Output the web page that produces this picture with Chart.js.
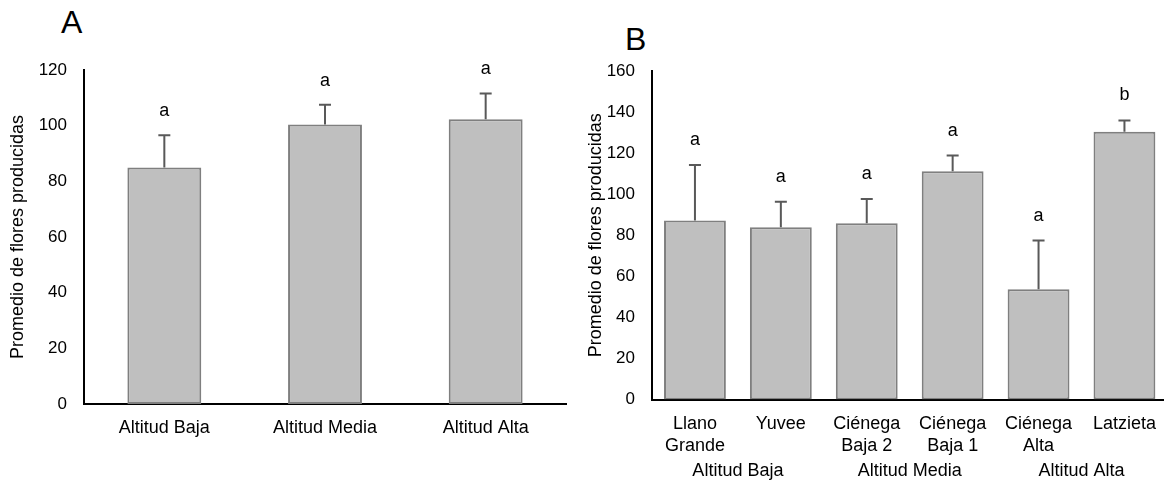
<!DOCTYPE html>
<html>
<head>
<meta charset="utf-8">
<script src="https://cdn.jsdelivr.net/npm/chart.js@4.4.1/dist/chart.umd.min.js"></script>
<style>
  html, body { margin: 0; padding: 0; background: #fff; overflow: hidden; }
  body { width: 1164px; height: 485px; position: relative; font-family: "Liberation Sans", Arial, sans-serif; }
  .panel { position: absolute; top: 0; }
  .tag { position: absolute; font-size: 32px; line-height: 32px; color: #000; }
</style>
</head>
<body>
<div class="tag" style="left:61px; top:6px;">A</div>
<div class="tag" style="left:625px; top:23px;">B</div>
<div class="panel" style="left:0px;"><canvas id="chartA" width="580" height="485"></canvas></div>
<div class="panel" style="left:578px;"><canvas id="chartB" width="600" height="485"></canvas></div>
<script>
// panel A
const altLabels = ['Altitud Baja', 'Altitud Media', 'Altitud Alta'];
const altMeans = [85, 100.4, 102.3];
const altErrors = [11.6, 7.1, 9.3];
const altLetters = ['a', 'a', 'a'];

// panel B
const siteLabels = [['Llano', 'Grande'], 'Yuvee', ['Ciénega', 'Baja 2'], ['Ciénega', 'Baja 1'], ['Ciénega', 'Alta'], 'Latzieta'];
const siteMeans = [87.2, 83.9, 85.9, 111.2, 53.7, 130.4];
const siteErrors = [27, 12.4, 11.7, 7.6, 23.7, 5.5];
const siteLetters = ['a', 'a', 'a', 'a', 'a', 'b'];
const siteGroups = [
  {label: 'Altitud Baja', from: 0, to: 1},
  {label: 'Altitud Media', from: 2, to: 3},
  {label: 'Altitud Alta', from: 4, to: 5},
];

const yTitle = 'Promedio de flores producidas';
const FONT = '"Liberation Sans", Arial, sans-serif';

// error bars + significance letters, drawn off the y scale
const errorBars = {
  id: 'errorBars',
  afterDatasetsDraw(chart, args, opts) {
    const ctx = chart.ctx;
    const y = chart.scales.y;
    const means = chart.data.datasets[0].data;
    chart.getDatasetMeta(0).data.forEach((bar, i) => {
      const base = y.getPixelForValue(means[i]);
      const top = y.getPixelForValue(means[i] + opts.errors[i]);
      ctx.save();
      ctx.strokeStyle = '#595959';
      ctx.lineWidth = 2;
      ctx.beginPath();
      ctx.moveTo(bar.x, base);
      ctx.lineTo(bar.x, top);
      ctx.moveTo(bar.x - 6, top);
      ctx.lineTo(bar.x + 6, top);
      ctx.stroke();
      ctx.fillStyle = '#000';
      ctx.font = '18px ' + FONT;
      ctx.textAlign = 'center';
      ctx.textBaseline = 'middle';
      ctx.fillText(opts.letters[i], bar.x, top - opts.gap);
      ctx.restore();
    });
  }
};

// second row of category labels (altitude groups)
const groupLabels = {
  id: 'groupLabels',
  afterDraw(chart, args, opts) {
    if (!opts.groups) return;
    const ctx = chart.ctx;
    const x = chart.scales.x;
    ctx.save();
    ctx.fillStyle = '#000';
    ctx.font = '18px ' + FONT;
    ctx.textAlign = 'center';
    ctx.textBaseline = 'middle';
    opts.groups.forEach(g => {
      const cx = (x.getPixelForValue(g.from) + x.getPixelForValue(g.to)) / 2;
      ctx.fillText(g.label, cx, chart.chartArea.bottom + opts.offset);
    });
    ctx.restore();
  }
};

function makeChart(id, labels, means, errors, letters, cfg) {
  return new Chart(document.getElementById(id), {
    type: 'bar',
    data: {
      labels: labels,
      datasets: [{
        data: means,
        backgroundColor: '#bfbfbf',
        borderColor: '#7f7f7f',
        borderWidth: 2,
        borderSkipped: false,
        barPercentage: cfg.barPct,
        categoryPercentage: 1,
      }],
    },
    options: {
      responsive: false,
      animation: false,
      layout: {padding: {top: cfg.top, right: cfg.right, left: 0, bottom: 0}},
      plugins: {
        legend: {display: false},
        tooltip: {enabled: false},
        errorBars: {errors: errors, letters: letters, gap: cfg.gap},
        groupLabels: {groups: cfg.groups, offset: 72},
      },
      scales: {
        x: {
          grid: {display: false},
          border: {display: true, color: '#000', width: 2},
          ticks: {color: '#000', padding: cfg.xPad, font: {family: FONT, size: 18, lineHeight: 1.26}, maxRotation: 0, autoSkip: false},
          afterFit: (s) => { s.height = cfg.xHeight; },
        },
        y: {
          min: 0,
          max: cfg.yMax,
          grid: {display: false, drawTicks: false},
          border: {display: true, color: '#000', width: 2},
          ticks: {stepSize: 20, color: '#000', padding: 17, font: {family: FONT, size: 17}},
          title: {display: true, text: yTitle, color: '#000', font: {family: FONT, size: 18}, padding: {top: cfg.titlePad, bottom: 0}},
          afterFit: (s) => { s.width = cfg.yWidth; },
        },
      },
    },
    plugins: [errorBars, groupLabels],
  });
}

makeChart('chartA', altLabels, altMeans, altErrors, altLetters, {
  barPct: 0.46, top: 70, right: 14, yMax: 120, yWidth: 84, xHeight: 81, xPad: 5, titlePad: 7, gap: 24,
});

makeChart('chartB', siteLabels, siteMeans, siteErrors, siteLetters, {
  barPct: 0.72, top: 71, right: 10.6, yMax: 160, yWidth: 74, xHeight: 85.5, xPad: 5, titlePad: 7, gap: 25, groups: siteGroups,
});
</script>
</body>
</html>
